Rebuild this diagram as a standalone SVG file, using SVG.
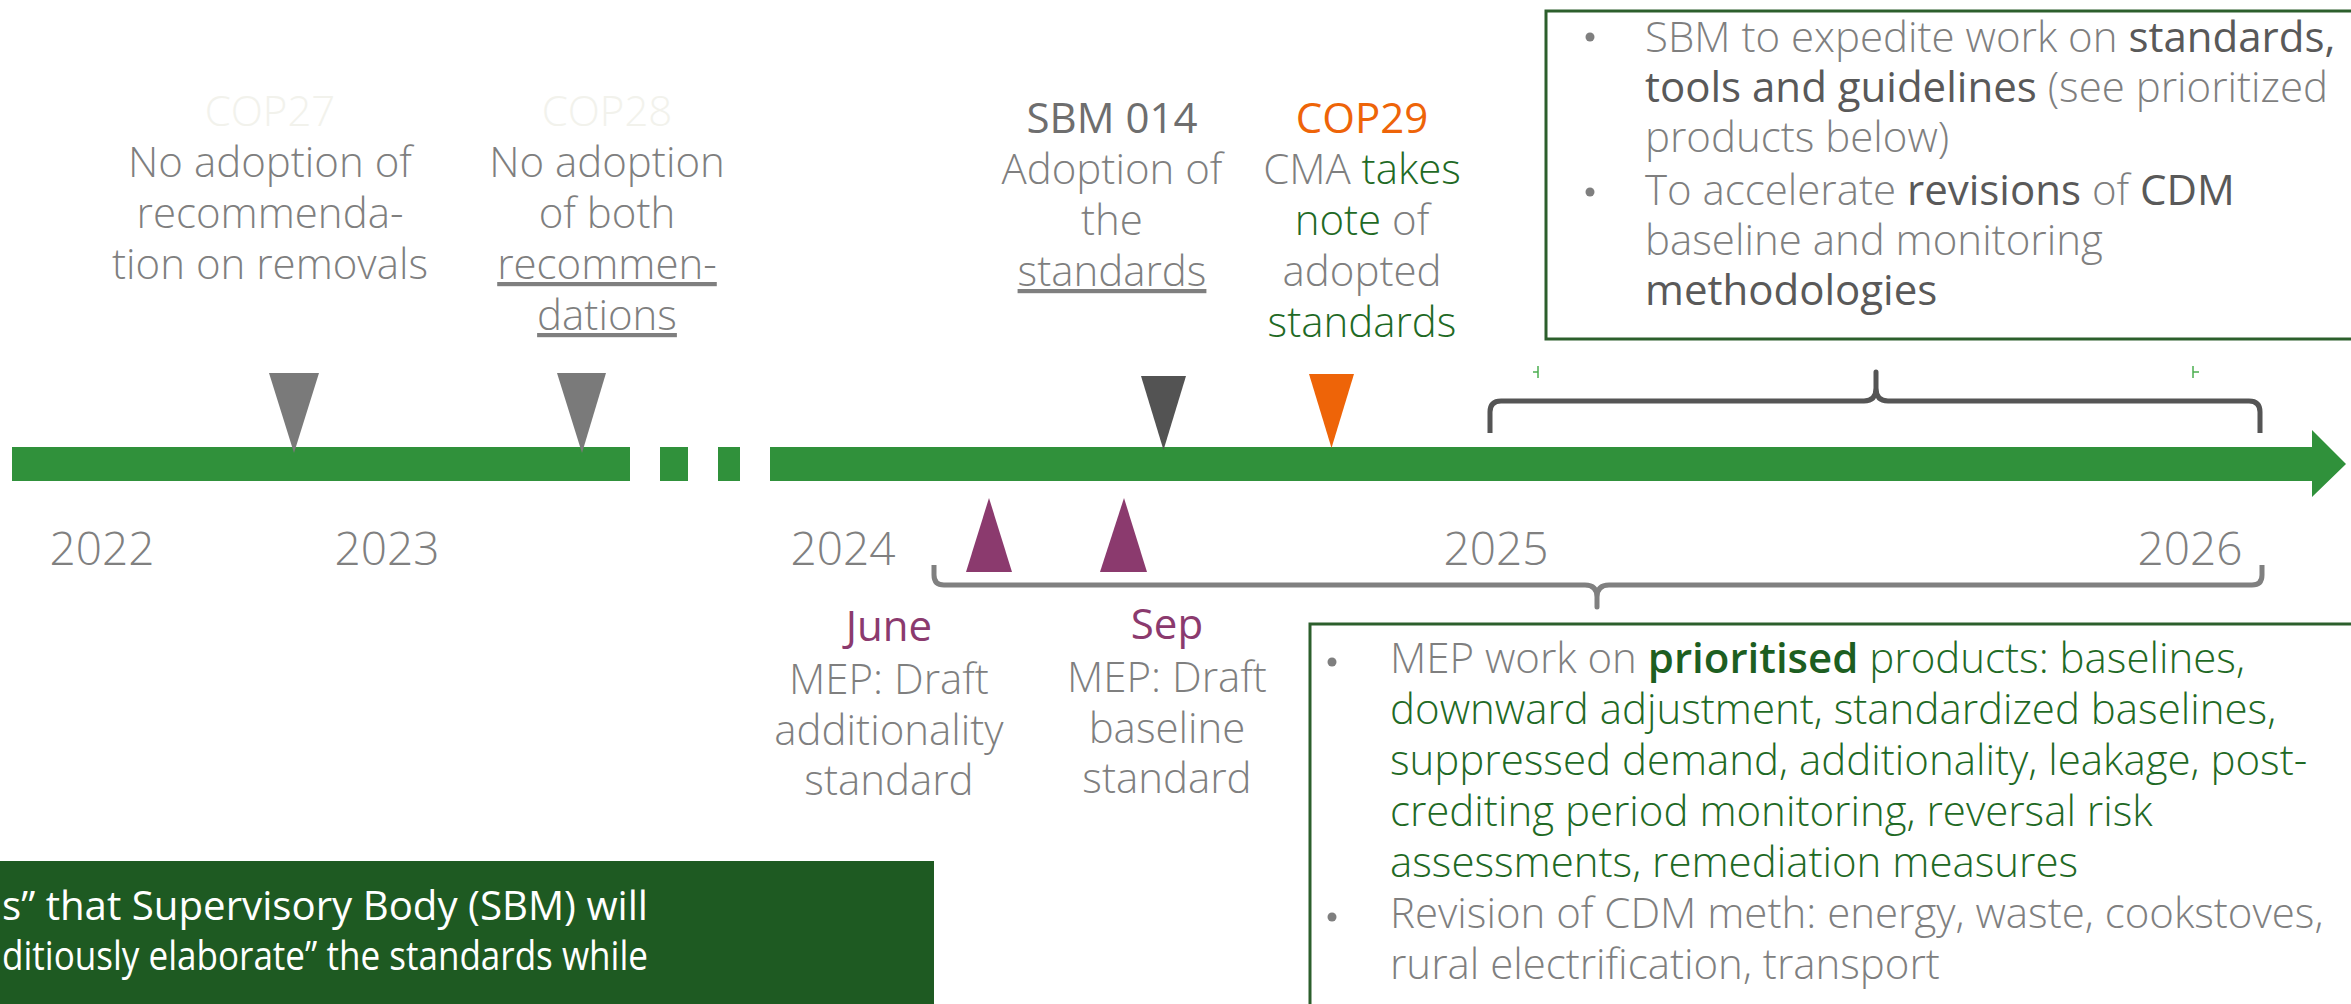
<svg xmlns="http://www.w3.org/2000/svg" width="2351" height="1004" viewBox="0 0 2351 1004">
<style>
.t{font-family:"Open Sans","Liberation Sans",sans-serif;font-weight:300;font-size:42px;fill:#7f7f7f}
.c{text-anchor:middle}
.dk{fill:#595959;font-weight:400}
.gr{fill:#1f6a25}
.hd{font-weight:400}
.sb{font-weight:600;fill:#1d5e21}
.yr{font-family:"Open Sans","Liberation Sans",sans-serif;font-weight:300;font-size:46px;fill:#808080;text-anchor:middle}
.faint{fill:#f2f2ec}
.u{text-decoration:underline}
.box{fill:none;stroke:#2c5f2c;stroke-width:3}
.brace{fill:none;stroke-width:5;stroke-linejoin:round}
.wt{font-family:"Open Sans","Liberation Sans",sans-serif;font-size:40px;fill:#ffffff}
</style>
<rect width="2351" height="1004" fill="#ffffff"/>

<g id="timeline" fill="#30913b">
<rect x="12" y="447" width="618" height="34"/>
<rect x="660" y="447" width="28" height="34"/>
<rect x="718" y="447" width="22" height="34"/>
<polygon points="770,447 2312,447 2312,430 2346,464 2312,497 2312,481 770,481"/>
</g>

<g id="years">
<text class="yr" x="102" y="565">2022</text>
<text class="yr" x="387" y="565">2023</text>
<text class="yr" x="843" y="565">2024</text>
<text class="yr" x="1496" y="565">2025</text>
<text class="yr" x="2190" y="565">2026</text>
</g>

<g id="connectors">
<path class="brace" stroke="#555555" d="M1490,433 L1490,412 Q1490,401 1501,401 L1864,401 Q1876,401 1876,388 L1876,372 L1876,388 Q1876,401 1888,401 L2249,401 Q2260,401 2260,412 L2260,433"/>
<path class="brace" stroke="#808080" d="M934,565 L934,575 Q934,585 944,585 L1585,585 Q1597,585 1597,597 L1597,607 L1597,597 Q1597,585 1609,585 L2252,585 Q2262,585 2262,575 L2262,565"/>
<path d="M1538,366 L1538,378 M1533,372 L1538,372 M2193,366 L2193,378 M2193,372 L2199,372" stroke="#4caf50" stroke-width="1.5" fill="none"/>
</g>

<g id="cop27">
<polygon points="269,373 319,373 294,453" fill="#7a7a7a"/>
<text class="t c faint" x="270" y="126">COP27</text>
<text class="t c" x="270" y="177">No adoption of</text>
<text class="t c" x="270" y="228">recommenda-</text>
<text class="t c" x="270" y="279">tion on removals</text>
</g>

<g id="cop28">
<polygon points="557,373 606,373 582,453" fill="#7a7a7a"/>
<text class="t c faint" x="607" y="126">COP28</text>
<text class="t c" x="607" y="177">No adoption</text>
<text class="t c" x="607" y="228">of both</text>
<text class="t c u" x="607" y="279">recommen-</text>
<text class="t c u" x="607" y="330">dations</text>
</g>

<g id="sbm014">
<polygon points="1141,376 1186,376 1163.5,450" fill="#535353"/>
<text class="t c hd" fill="#6e6e6e" style="fill:#6e6e6e" x="1112" y="133">SBM 014</text>
<text class="t c" x="1112" y="184">Adoption of</text>
<text class="t c" x="1112" y="235">the</text>
<text class="t c u" x="1112" y="286">standards</text>
</g>

<g id="cop29">
<polygon points="1309,374 1354,374 1331.5,448" fill="#ee6408"/>
<text class="t c hd" style="fill:#ee6408" x="1362" y="133">COP29</text>
<text class="t c" x="1362" y="184">CMA <tspan class="gr">takes</tspan></text>
<text class="t c" x="1362" y="235"><tspan class="gr">note</tspan> of</text>
<text class="t c" x="1362" y="286">adopted</text>
<text class="t c gr" x="1362" y="337">standards</text>
</g>

<g id="june">
<polygon points="966,572 1012,572 989,498" fill="#8b3a6e"/>
<text class="t c hd" style="fill:#8b3a6e" x="889" y="641">June</text>
<text class="t c" x="889" y="694">MEP: Draft</text>
<text class="t c" x="889" y="745">additionality</text>
<text class="t c" x="889" y="795">standard</text>
</g>

<g id="sep">
<polygon points="1100,572 1147,572 1124,498" fill="#8b3a6e"/>
<text class="t c hd" style="fill:#8b3a6e" x="1167" y="639">Sep</text>
<text class="t c" x="1167" y="692">MEP: Draft</text>
<text class="t c" x="1167" y="743">baseline</text>
<text class="t c" x="1167" y="793">standard</text>
</g>

<g id="sbm-box">
<rect class="box" x="1546" y="11" width="820" height="328"/>
<circle cx="1590" cy="37" r="4.5" fill="#7f7f7f"/>
<circle cx="1590" cy="192" r="4.5" fill="#7f7f7f"/>
<text class="t" x="1645" y="52">SBM to expedite work on <tspan class="dk">standards,</tspan></text>
<text class="t" x="1645" y="102"><tspan class="dk">tools and guidelines</tspan> (see prioritized</text>
<text class="t" x="1645" y="152">products below)</text>
<text class="t" x="1645" y="205">To accelerate <tspan class="dk">revisions</tspan> of <tspan class="dk">CDM</tspan></text>
<text class="t" x="1645" y="255">baseline and monitoring</text>
<text class="t dk" x="1645" y="305">methodologies</text>
</g>

<g id="mep-box">
<rect class="box" x="1310" y="624" width="1060" height="400"/>
<circle cx="1332" cy="662" r="4.5" fill="#7f7f7f"/>
<circle cx="1332" cy="917" r="4.5" fill="#7f7f7f"/>
<text class="t" x="1390" y="673">MEP work on <tspan class="sb">prioritised</tspan> <tspan class="gr">products: baselines,</tspan></text>
<text class="t gr" x="1390" y="724">downward adjustment, standardized baselines,</text>
<text class="t gr" x="1390" y="775">suppressed demand, additionality, leakage, post-</text>
<text class="t gr" x="1390" y="826">crediting period monitoring, reversal risk</text>
<text class="t gr" x="1390" y="877">assessments, remediation measures</text>
<text class="t" x="1390" y="928">Revision of CDM meth: energy, waste, cookstoves,</text>
<text class="t" x="1390" y="979">rural electrification, transport</text>
</g>

<g id="cma-box">
<rect x="-10" y="861" width="944" height="160" fill="#1e5a22"/>
<text class="wt" x="2" y="920" textLength="646" lengthAdjust="spacingAndGlyphs">s” that Supervisory Body (SBM) will</text>
<text class="wt" x="2" y="970" textLength="646" lengthAdjust="spacingAndGlyphs">ditiously elaborate” the standards while</text>
</g>
</svg>
